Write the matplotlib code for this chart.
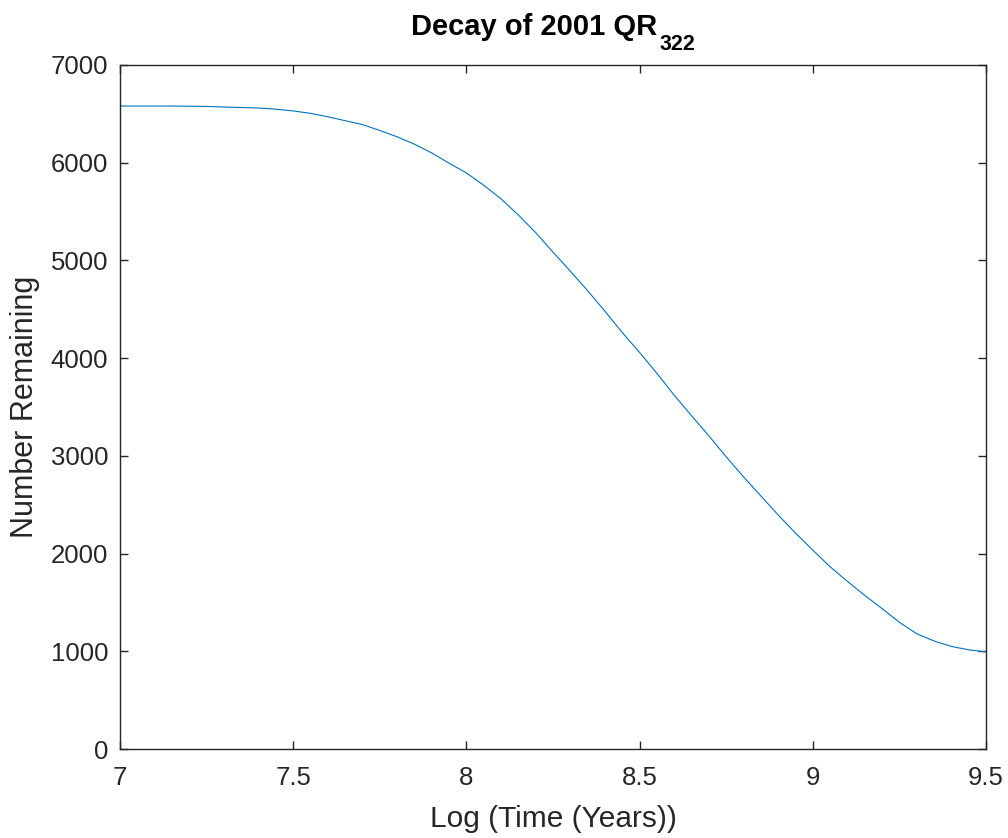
import matplotlib
matplotlib.use("Agg")
import matplotlib.pyplot as plt

# Log10 of elapsed time (years) and surviving particle count
log_time = [7.00, 7.05, 7.10, 7.15, 7.20, 7.25, 7.30, 7.35, 7.40, 7.45,
            7.50, 7.55, 7.60, 7.65, 7.70, 7.75, 7.80, 7.85, 7.90, 7.95,
            8.00, 8.05, 8.10, 8.15, 8.20, 8.25, 8.30, 8.35, 8.40, 8.45,
            8.50, 8.55, 8.60, 8.65, 8.70, 8.75, 8.80, 8.85, 8.90, 8.95,
            9.00, 9.05, 9.10, 9.15, 9.20, 9.25, 9.30, 9.35, 9.40, 9.45, 9.50]
remaining = [6580, 6580, 6580, 6580, 6578, 6576, 6570, 6565, 6560, 6548,
             6530, 6505, 6470, 6430, 6390, 6330, 6265, 6190, 6100, 5995,
             5895, 5770, 5630, 5465, 5285, 5085, 4890, 4690, 4480, 4262,
             4058, 3845, 3620, 3410, 3205, 2990, 2785, 2590, 2395, 2210,
             2035, 1865, 1715, 1572, 1437, 1297, 1180, 1105, 1050, 1015, 993]

x_ticks = [7, 7.5, 8, 8.5, 9, 9.5]
x_tick_labels = ["7", "7.5", "8", "8.5", "9", "9.5"]
y_ticks = [0, 1000, 2000, 3000, 4000, 5000, 6000, 7000]

title_main = "Decay of 2001 QR"
title_sub = "322"

plt.rcParams["font.family"] = ["Liberation Sans", "DejaVu Sans"]

axis_color = (0.15, 0.15, 0.15)
W, H = 1008, 838

fig = plt.figure(figsize=(W / 100, H / 100), dpi=100)
ax = fig.add_axes([120 / W, 89 / H, 866 / W, 684 / H])

ax.plot(log_time, remaining, color="#0072BD", linewidth=0.8)

ax.set_xlim(7, 9.5)
ax.set_ylim(0, 7000)
ax.set_xticks(x_ticks)
ax.set_xticklabels(x_tick_labels)
ax.set_yticks(y_ticks)

ax.tick_params(direction="in", length=6, width=1.0, top=True, right=True,
               labelsize=18.5, colors=axis_color)
ax.tick_params(axis="x", pad=12)
ax.tick_params(axis="y", pad=8.5)
for side in ax.spines.values():
    side.set_color(axis_color)
    side.set_linewidth(1.0)

ax.set_xlabel("Log (Time (Years))", fontsize=21.5, color=axis_color)
ax.set_ylabel("Number Remaining", fontsize=22, color=axis_color)
ax.xaxis.set_label_coords(0.5, -0.082)
ax.yaxis.set_label_coords(-0.092, 0.5)

# Title with a lowered subscript, centred over the axes
t_main = fig.text(0, (H - 35) / H, title_main, fontsize=21, fontweight="bold",
                  color="black", ha="left", va="baseline")
t_sub = fig.text(0, (H - 50) / H, title_sub, fontsize=15.5, fontweight="bold",
                 color="black", ha="left", va="baseline")
fig.canvas.draw()
renderer = fig.canvas.get_renderer()
w_main = t_main.get_window_extent(renderer).width
w_sub = t_sub.get_window_extent(renderer).width
ax_box = ax.get_window_extent(renderer)
centre = (ax_box.x0 + ax_box.x1) / 2
gap = 2
start = centre - (w_main + gap + w_sub) / 2
t_main.set_x(start / fig.bbox.width)
t_sub.set_x((start + w_main + gap) / fig.bbox.width)

fig.savefig("out.png", dpi=100, facecolor="white")
